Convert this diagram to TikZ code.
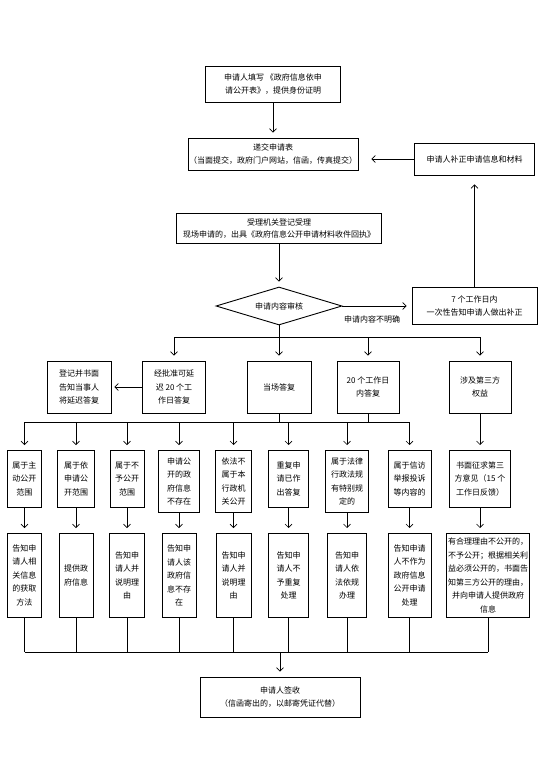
\documentclass[tikz,border=0pt]{standalone}
\usepackage{fontspec}
\newfontfamily\cjk{Noto Sans CJK SC}
\usetikzlibrary{shapes.geometric,arrows.meta}

\begin{document}
\begin{tikzpicture}[x = 1pt, y = -1pt,
                    >={Straight Barb[length=3.5pt, width=7pt]},
                    mbox/.style = {shape = rectangle,
                                   color = black,
                                   line width = 0.9pt,
                                   inner sep = 1pt,
                                   align = center,
                                   font = \cjk\fontsize{8}{13.5}\selectfont,
                                   draw},
                    mdiam/.style = {mbox,
                                    shape = diamond,
                                    aspect = 3.3,
                                    inner sep = 0pt,
                                    minimum width = 126pt,
                                    minimum height = 38pt},
                    mrow2/.style = {mbox, minimum height = 52pt},
                    mrow3/.style = {mbox, anchor = north, minimum height = 57pt},
                    mrow4/.style = {mbox, anchor = north, minimum height = 84pt},
                    mline/.style = {line width = 0.6pt},
                    marrow/.style = {->, line width = 0.6pt, shorten > = 5pt}]
		\useasboundingbox (0,0) rectangle (555,783);

		\node[mbox, minimum width = 135pt, minimum height = 36pt] (1) at (273,84)
			{申请人填写 《政府信息依申\\请公开表》，提供身份证明};
		\node[mbox, minimum width = 169pt, minimum height = 32pt] (2) at (273,154)
			{递交申请表\\（当面提交，政府门户网站，信函，传真提交）};
		\node[mbox, minimum width = 120pt, minimum height = 32pt] (3) at (474.5,159)
			{申请人补正申请信息和材料};
		\node[mbox, minimum width = 205pt, minimum height = 30pt,
		      font = \cjk\fontsize{8}{12}\selectfont] (4) at (279,228.5)
			{受理机关登记受理\\现场申请的，出具《政府信息公开申请材料收件回执》};
		\node[mdiam] (5) at (279,306) {申请内容审核};
		\node[mbox, minimum width = 125pt, minimum height = 37pt] (6) at (474.5,306)
			{7 个工作日内\\一次性告知申请人做出补正};
		\node[font = \cjk\fontsize{8}{10}\selectfont, inner sep = 0pt] (7) at (372,319)
			{申请内容不明确};

		\node[mrow2, minimum width = 64pt] (8) at (79,387) {登记并书面\\告知当事人\\将延迟答复};
		\node[mrow2, minimum width = 63pt] (9) at (174,387) {经批准可延\\迟 20 个工\\作日答复};
		\node[mrow2, minimum width = 64pt] (10) at (279,387) {当场答复};
		\node[mrow2, minimum width = 62pt] (11) at (368,387) {20 个工作日\\内答复};
		\node[mrow2, minimum width = 62pt] (12) at (480,387) {涉及第三方\\权益};

		\node[mrow3, minimum width = 34pt] (13) at (24.5,450) {属于主\\动公开\\范围};
		\node[mrow3, minimum width = 37pt] (14) at (76,450) {属于依\\申请公\\开范围};
		\node[mrow3, minimum width = 34pt] (15) at (127,450) {属于不\\予公开\\范围};
		\node[mrow3, minimum width = 41pt, minimum height = 62pt] (16) at (179,450)
			{申请公\\开的政\\府信息\\不存在};
		\node[mrow3, minimum width = 36pt, minimum height = 62pt] (17) at (233.5,450)
			{依法不\\属于本\\行政机\\关公开};
		\node[mrow3, minimum width = 40pt] (18) at (288.5,450) {重复申\\请已作\\出答复};
		\node[mrow3, minimum width = 43pt, minimum height = 62pt] (19) at (347,450)
			{属于法律\\行政法规\\有特别规\\定的};
		\node[mrow3, minimum width = 43pt] (20) at (409.5,450) {属于信访\\举报投诉\\等内容的};
		\node[mrow3, minimum width = 61pt] (21) at (480,450)
			{书面征求第三\\方意见（15 个\\工作日反馈）};

		\node[mrow4, minimum width = 34pt] (22) at (24.5,533) {告知申\\请人相\\关信息\\的获取\\方法};
		\node[mrow4, minimum width = 34pt] (23) at (76,533) {提供政\\府信息};
		\node[mrow4, minimum width = 35pt] (24) at (127,533) {告知申\\请人并\\说明理\\由};
		\node[mrow4, minimum width = 34pt] (25) at (179,533) {告知申\\请人该\\政府信\\息不存\\在};
		\node[mrow4, minimum width = 35pt] (26) at (233.5,533) {告知申\\请人并\\说明理\\由};
		\node[mrow4, minimum width = 40pt] (27) at (288.5,533) {告知申\\请人不\\予重复\\处理};
		\node[mrow4, minimum width = 39pt] (28) at (347,533) {告知申\\请人依\\法依规\\办理};
		\node[mrow4, minimum width = 43pt] (29) at (409.5,533)
			{告知申请\\人不作为\\政府信息\\公开申请\\处理};
		\node[mrow4, minimum width = 83pt] (30) at (488,533)
			{有合理理由不公开的，\\不予公开；根据相关利\\益必须公开的，书面告\\知第三方公开的理由，\\并向申请人提供政府\\信息};

		\node[mbox, minimum width = 160pt, minimum height = 40pt] (31) at (280,697)
			{申请人签收\\（信函寄出的，以邮寄凭证代替）};

		\coordinate (b1) at (174,337);
		\coordinate (b2) at (368,337);
		\coordinate (b3) at (480,337);
		\foreach \n/\x in {1/24.5, 2/76, 3/127, 4/179, 5/233.5, 6/288.5, 7/347, 8/409.5}
			\coordinate (c\n) at (\x,422);
		\foreach \n/\x in {1/24.5, 2/76, 3/127, 4/179, 5/233.5, 6/288.5, 7/347, 8/409.5, 9/488}
			\coordinate (d\n) at (\x,652);
		\coordinate (d0) at (280,652);

		\draw[marrow] (1) -- (2);
		\draw[marrow, shorten > = 13pt] (3.west) -- (3.west -| 2.east);
		\draw[marrow] (4) -- (5);
		\draw[marrow] (5) -- (6);
		\draw[marrow, shorten > = 9pt] (6) -- (3);

		\draw[mline] (b1) -- (b3);
		\draw[marrow] (5) -- (10);
		\draw[marrow] (b1) -- (9);
		\draw[marrow] (b2) -- (11);
		\draw[marrow] (b3) -- (12);
		\draw[marrow, shorten > = 3pt] (9) -- (8);

		\draw[mline] (c1) -- (c8);
		\draw[mline] (10) -- (10 |- c1);
		\draw[mline] (11) -- (11 |- c1);
		\foreach \c/\n in {c1/13, c2/14, c3/15, c4/16, c5/17, c6/18, c7/19, c8/20}
			\draw[marrow] (\c) -- (\n);
		\draw[marrow] (12) -- (21);

		\foreach \a/\b in {13/22, 14/23, 15/24, 16/25, 17/26, 18/27, 19/28, 20/29}
			\draw[marrow] (\a) -- (\b);
		\draw[marrow] (21.south) -- (21.south |- 30.north);

		\foreach \n/\d in {22/d1, 23/d2, 24/d3, 25/d4, 26/d5, 27/d6, 28/d7, 29/d8, 30/d9}
			\draw[mline] (\n) -- (\d);
		\draw[mline] (d1) -- (d9);
		\draw[marrow] (d0) -- (31);
	\end{tikzpicture}
\end{document}
